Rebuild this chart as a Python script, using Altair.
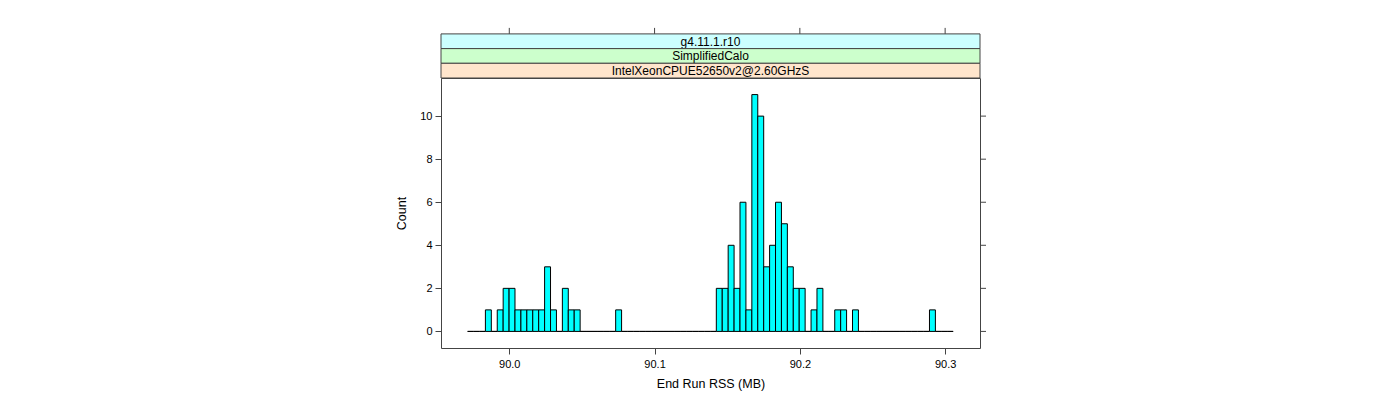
import altair as alt
import pandas as pd

# ---- data ----
bin_start = 89.97133          # left edge of first histogram bin (MB)
bin_width = 0.0040756         # histogram bin width (MB)
counts = [0, 0, 0, 1, 0, 1, 2, 2, 1, 1,
          1, 1, 1, 3, 1, 0, 2, 1, 1, 0,
          0, 0, 0, 0, 0, 1, 0, 0, 0, 0,
          0, 0, 0, 0, 0, 0, 0, 0, 0, 0,
          0, 0, 2, 2, 4, 2, 6, 1, 11, 10,
          3, 4, 6, 5, 3, 2, 2, 0, 1, 2,
          0, 0, 1, 1, 0, 1, 0, 0, 0, 0,
          0, 0, 0, 0, 0, 0, 0, 0, 1, 0,
          0, 0]
x_ticks = [90.0, 90.1, 90.2, 90.3]
y_ticks = [0, 2, 4, 6, 8, 10]
strip_labels = ["g4.11.1.r10", "SimplifiedCalo", "IntelXeonCPUE52650v2@2.60GHzS"]
strip_colors = ["#ccffff", "#ccffcc", "#ffe5cc"]

x_domain = [89.953, 90.324]
y_domain = [-0.77, 11.77]

W, H = 539, 270
STRIP_H = 14.7
FONT = "Liberation Sans"
LINE = "#444444"

df = pd.DataFrame({
    "x0": [bin_start + i * bin_width for i in range(len(counts))],
    "x1": [bin_start + (i + 1) * bin_width for i in range(len(counts))],
    "count": counts,
})

xscale = alt.Scale(domain=x_domain, nice=False, zero=False)
yscale = alt.Scale(domain=y_domain, nice=False, zero=False)

x_axis = alt.Axis(
    values=x_ticks, format=".1f", tickSize=6, tickColor=LINE, domain=False, grid=False,
    labelFont=FONT, labelFontSize=11, labelColor="black", labelPadding=4,
    title="End Run RSS (MB)", titleFont=FONT, titleFontSize=12.5, titleFontWeight="normal",
    titleColor="black", titlePadding=8)
y_axis = alt.Axis(
    values=y_ticks, tickSize=6, tickColor=LINE, domain=False, grid=False,
    labelFont=FONT, labelFontSize=11, labelColor="black", labelPadding=3,
    title="Count", titleFont=FONT, titleFontSize=12.5, titleFontWeight="normal",
    titleColor="black", titlePadding=11)

bars = alt.Chart(df).mark_rect(fill="#00ffff", stroke="black", strokeWidth=1).encode(
    x=alt.X("x0:Q", scale=xscale, axis=x_axis, title="End Run RSS (MB)"),
    x2="x1:Q",
    y=alt.Y("count:Q", scale=yscale, axis=y_axis, title="Count"),
    y2=alt.datum(0),
)

top_ticks = alt.Chart(pd.DataFrame({"v": x_ticks})).mark_rule(color=LINE).encode(
    x=alt.X("v:Q", scale=xscale, axis=x_axis, title="End Run RSS (MB)"),
    y=alt.value(-3 * STRIP_H),
    y2=alt.value(-3 * STRIP_H - 6),
)
right_ticks = alt.Chart(pd.DataFrame({"v": y_ticks})).mark_rule(color=LINE).encode(
    y=alt.Y("v:Q", scale=yscale, axis=y_axis, title="Count"),
    x=alt.value(W),
    x2=alt.value(W + 6),
)

layers = [bars, top_ticks, right_ticks]
for i, (lab, col) in enumerate(zip(strip_labels, strip_colors)):
    y0 = -(3 - i) * STRIP_H
    y1 = y0 + STRIP_H
    sdf = pd.DataFrame({"label": [lab]})
    layers.append(alt.Chart(sdf).mark_rect(fill=col, stroke=LINE, strokeWidth=1).encode(
        x=alt.value(0), x2=alt.value(W), y=alt.value(y0), y2=alt.value(y1)))
    layers.append(alt.Chart(sdf).mark_text(font=FONT, fontSize=12, color="black",
                                           baseline="middle", align="center").encode(
        x=alt.value(W / 2), y=alt.value((y0 + y1) / 2 + 0.5), text="label:N"))

chart = alt.layer(*layers).properties(
    width=W, height=H,
    autosize=alt.AutoSizeParams(type="none"),
    padding={"left": 433, "top": 70, "right": 20, "bottom": 50},
).configure_view(stroke=LINE, strokeWidth=1)

chart.save("out.html", embed_options={"renderer": "svg", "actions": False})
